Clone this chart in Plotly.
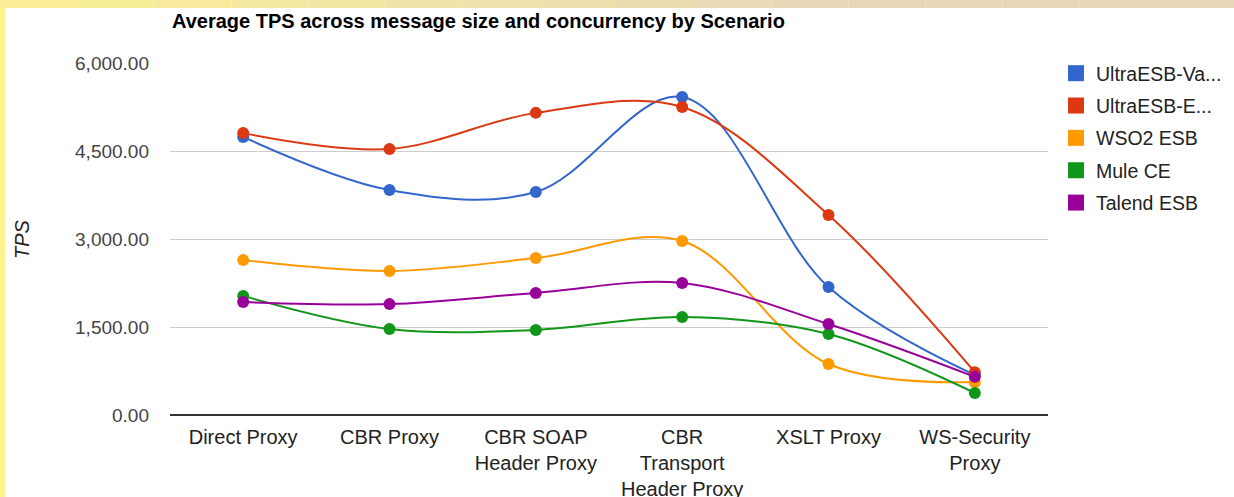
import plotly.graph_objects as go

categories = ["Direct Proxy", "CBR Proxy", "CBR SOAP<br>Header Proxy",
              "CBR<br>Transport<br>Header Proxy", "XSLT Proxy", "WS-Security<br>Proxy"]

ultra_va = [4740, 3835, 3800, 5420, 2180, 680]
ultra_e = [4805, 4535, 5150, 5250, 3410, 730]
wso2 = [2640, 2455, 2675, 2965, 870, 560]
mule = [2030, 1465, 1450, 1670, 1380, 375]
talend = [1925, 1890, 2080, 2250, 1550, 650]

series_names = ["UltraESB-Va...", "UltraESB-E...", "WSO2 ESB", "Mule CE", "Talend ESB"]
series_values = [ultra_va, ultra_e, wso2, mule, talend]
series_colors = ["#3366cc", "#dc3912", "#ff9900", "#109618", "#990099"]

y_ticks = [0, 1500, 3000, 4500, 6000]
y_tick_labels = ["0.00", "1,500.00", "3,000.00", "4,500.00", "6,000.00"]

W, H = 1234, 497
L, R, T, B = 170, 1048, 63, 415  # plot area in pixels


def px_x(x):
    return (x - L) / (R - L)


def px_y(y):
    return (B - y) / (B - T)


fig = go.Figure()
for name, vals, color in zip(series_names, series_values, series_colors):
    fig.add_trace(go.Scatter(
        x=categories, y=vals, name=name, mode="lines+markers", showlegend=False,
        line=dict(color=color, width=2, shape="spline", smoothing=1.0),
        marker=dict(color=color, size=12),
    ))
# legend swatches (squares, as in the reference)
for i, (name, color) in enumerate(zip(series_names, series_colors)):
    fig.add_trace(go.Scatter(
        x=[None], y=[None], name=name, mode="markers", legendgroup=str(i),
        marker=dict(color=color, size=18, symbol="square"),
    ))

# yellowish page border seen in the reference screenshot
shapes = []
shapes.append(dict(type="rect", xref="paper", yref="paper", layer="above",
                   x0=px_x(0), x1=px_x(5), y0=px_y(H), y1=px_y(0),
                   fillcolor="#fcf28e", line=dict(width=0)))
c0 = (0xfb, 0xf0, 0x94)
c1 = (0xe9, 0xd8, 0xb8)
n = 16
for k in range(n):
    xa = W * k / n
    xb = W * (k + 1) / n
    t = min(1.0, (xa + xb) / 2 / 800)
    col = tuple(round(a + (b - a) * t) for a, b in zip(c0, c1))
    shapes.append(dict(type="rect", xref="paper", yref="paper", layer="above",
                       x0=px_x(xa), x1=px_x(xb), y0=px_y(8), y1=px_y(0),
                       fillcolor="#%02x%02x%02x" % col, line=dict(width=0)))

fig.update_layout(
    width=W, height=H,
    margin=dict(l=L, r=W - R, t=T, b=H - B, autoexpand=False),
    paper_bgcolor="white", plot_bgcolor="white",
    font=dict(family="Liberation Sans, Arial", size=19, color="#222"),
    title=dict(text="<b>Average TPS across message size and concurrency by Scenario</b>",
               x=172 / W, xanchor="left", y=1 - 21 / H, yanchor="middle",
               font=dict(size=20, color="#000")),
    showlegend=True,
    legend=dict(x=px_x(1056), xanchor="left", y=px_y(54), yanchor="top",
                font=dict(size=19.5, color="#222"), tracegroupgap=4,
                itemsizing="trace", bgcolor="rgba(0,0,0,0)"),
    xaxis=dict(showgrid=False, showline=False, zeroline=False,
               tickfont=dict(size=20, color="#222"), range=[-0.5, 5.5],
               ticklabelstandoff=8),
    yaxis=dict(range=[0, 6000], tickvals=y_ticks, ticktext=y_tick_labels,
               showgrid=True, gridcolor="#cccccc", gridwidth=1,
               zeroline=True, zerolinecolor="#333333", zerolinewidth=1.5,
               tickfont=dict(size=19, color="#444"), ticks="", ticklen=0,
               ticklabelstandoff=20),
    annotations=[dict(text="<i>TPS</i>", xref="paper", yref="paper",
                      x=px_x(22), y=px_y(239), xanchor="center", yanchor="middle",
                      textangle=-90, showarrow=False,
                      font=dict(size=20, color="#222"))],
    shapes=shapes,
)

fig.write_html("out.html", config={"displayModeBar": False},
               post_script="document.body.style.margin='0';")
